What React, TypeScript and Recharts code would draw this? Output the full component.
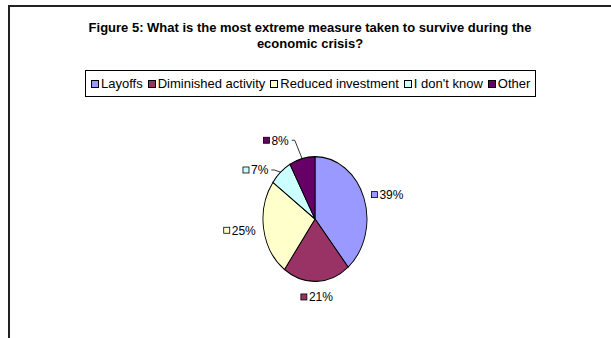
import React from "react";
import { PieChart, Pie, Cell, Sector } from "recharts";

const categories = ["Layoffs", "Diminished activity", "Reduced investment", "I don't know", "Other"];
const shares = [39, 21, 25, 7, 8];
const colors = ["#9999FF", "#993366", "#FFFFCC", "#CCFFFF", "#660066"];
const titleLines = [
  "Figure 5: What is the most extreme measure taken to survive during the",
  "economic crisis?",
];

const data = categories.map((name, i) => ({ name, value: shares[i] }));

// the pie in the picture is stretched, taller than wide
const Y_STRETCH = 1.2;
const FONT = "'Liberation Sans', Arial, sans-serif";

// small slices whose labels were pushed aside, with a leader line
const labelNudge: Record<string, [number, number]> = {
  "I don't know": [-7, 5],
  Other: [-24, -3],
};

const EllipseSector = (props: any) => {
  const { cy } = props;
  return (
    <g transform={`translate(0 ${cy}) scale(1 ${Y_STRETCH}) translate(0 ${-cy})`}>
      <Sector {...props} />
    </g>
  );
};

const renderLabel = (p: any) => {
  const { cx, cy, midAngle, outerRadius, index } = p;
  const rad = (midAngle * Math.PI) / 180;
  const cos = Math.cos(rad);
  const sin = Math.sin(rad);
  const edgeX = cx + outerRadius * cos;
  const edgeY = cy - outerRadius * Y_STRETCH * sin;
  const d = outerRadius + 8;
  const x = cx + d * cos;
  let y = cy - d * Y_STRETCH * sin;
  const text = `${shares[index]}%`;
  const w = 8 + (text.length - 1) * 6.67 + 10.67;
  let left: number;
  if (cos > 0.35) left = x;
  else if (cos < -0.35) left = x - w;
  else {
    left = x - w / 2;
    y += sin < 0 ? 6 : -6;
  }
  const nudge = labelNudge[categories[index]];
  if (nudge) {
    left += nudge[0];
    y += nudge[1];
  }
  return (
    <g key={`lbl-${index}`}>
      {nudge && (
        <polyline
          points={`${left + w + 3},${y} ${left + w + 6},${y} ${edgeX},${edgeY}`}
          fill="none"
          stroke="#000"
          strokeWidth={0.8}
        />
      )}
      <rect x={left} y={y - 3} width={6} height={6} fill={colors[index]} stroke="#000" strokeWidth={0.8} />
      <text x={left + 8} y={y} dy="0.36em" fontSize={12} fontFamily={FONT} fill="#000">
        {text}
      </text>
    </g>
  );
};

export default function App() {
  return (
    <div style={{ position: "absolute", left: 0, top: 0, width: 611, height: 338, background: "#fff", overflow: "hidden" }}>
      <div
        style={{
          position: "absolute",
          left: 8,
          top: 5,
          width: 620,
          height: 340,
          borderTop: "2px solid #222",
          borderLeft: "2px solid #222",
        }}
      />
      <div
        style={{
          position: "absolute",
          left: 10,
          top: 20,
          width: 600,
          textAlign: "center",
          fontFamily: FONT,
          fontWeight: "bold",
          fontSize: 13,
          lineHeight: "16px",
          color: "#000",
        }}
      >
        {titleLines.map((t) => (
          <div key={t}>{t}</div>
        ))}
      </div>
      <div
        style={{
          position: "absolute",
          left: 85,
          top: 70,
          height: 25,
          padding: "0 5px",
          border: "1px solid #000",
          display: "flex",
          alignItems: "center",
          fontFamily: FONT,
          fontSize: 13,
          color: "#000",
          whiteSpace: "nowrap",
        }}
      >
        {categories.map((c, i) => (
          <span key={c} style={{ display: "flex", alignItems: "center", marginRight: i < categories.length - 1 ? 5 : 0 }}>
            <span
              style={{
                display: "inline-block",
                width: 6,
                height: 6,
                background: colors[i],
                border: "1px solid #000",
                marginRight: 2,
              }}
            />
            {c}
          </span>
        ))}
      </div>
      <div style={{ position: "absolute", left: 0, top: 0 }}>
        <PieChart width={611} height={338} margin={{ top: 0, right: 0, bottom: 0, left: 0 }}>
          <Pie
            data={data}
            dataKey="value"
            nameKey="name"
            cx={315}
            cy={219}
            outerRadius={52}
            startAngle={90}
            endAngle={-270}
            stroke="#000"
            strokeWidth={0.9}
            shape={EllipseSector}
            label={renderLabel}
            labelLine={false}
            isAnimationActive={false}
          >
            {data.map((e, i) => (
              <Cell key={e.name} fill={colors[i]} />
            ))}
          </Pie>
        </PieChart>
      </div>
    </div>
  );
}
